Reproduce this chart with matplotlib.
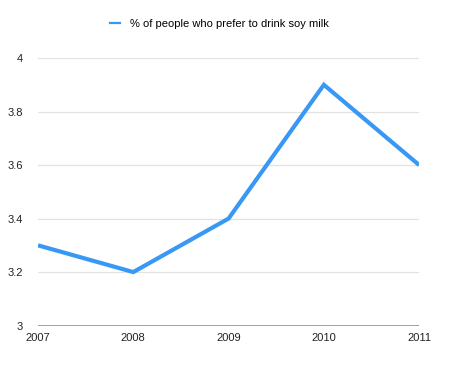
import matplotlib
matplotlib.use("Agg")
import matplotlib.pyplot as plt
from matplotlib.lines import Line2D

years = ["2007", "2008", "2009", "2010", "2011"]
soy_milk = [3.3, 3.2, 3.4, 3.9, 3.6]
y_ticks = [3, 3.2, 3.4, 3.6, 3.8, 4]
y_labels = ["3", "3.2", "3.4", "3.6", "3.8", "4"]
series_label = "% of people who prefer to drink soy milk"

plt.rcParams['font.family'] = ['Liberation Sans', 'DejaVu Sans']

fig = plt.figure(figsize=(4.5, 3.65), dpi=100)
ax = fig.add_axes([0.0844, 0.108, 0.847, 0.733])

x = list(range(len(years)))
ax.plot(x, soy_milk, color='#3a98f5', linewidth=3.0, solid_joinstyle='miter',
        solid_capstyle='butt', zorder=3)

ax.set_xlim(0, len(years) - 1)
ax.set_ylim(3, 4)
ax.set_yticks(y_ticks)
ax.set_yticklabels(y_labels)
ax.set_xticks(x)
ax.set_xticklabels(years)

# horizontal gridlines; baseline darker
for t in y_ticks:
    color = '#a0a0a0' if t == 3 else '#e2e2e2'
    ax.axhline(t, color=color, linewidth=1.4 if t == 3 else 0.9, zorder=1)

for s in ax.spines.values():
    s.set_visible(False)
ax.tick_params(axis='both', length=0, labelsize=8, colors='#222222')
ax.tick_params(axis='y', pad=11)
ax.tick_params(axis='x', pad=5)

handle = Line2D([], [], color='#3a98f5', linewidth=1.6)
fig.legend(handles=[handle], labels=[series_label], loc='center',
           bbox_to_anchor=(0.487, 0.935), frameon=False, fontsize=8,
           handlelength=0.9, handletextpad=0.9)

fig.savefig("out.png", dpi=100)
